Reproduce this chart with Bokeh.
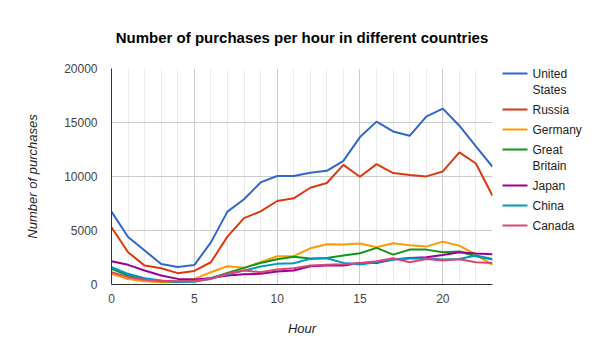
from bokeh.plotting import figure
from bokeh.layouts import row
from bokeh.models import SingleIntervalTicker, Range1d, Title, ColumnDataSource
from bokeh.core.properties import value
from bokeh.embed import file_html
from bokeh.resources import INLINE

hours = list(range(24))
united_states = [6750, 4400, 3150, 1900, 1630, 1800, 3900, 6750, 7900, 9450, 10050, 10050,
                 10350, 10530, 11450, 13650, 15080, 14170, 13770, 15550, 16280, 14700, 12780, 10900]
russia = [5300, 2990, 1750, 1500, 1050, 1260, 2060, 4430, 6150, 6770, 7730, 7980,
          8960, 9400, 11080, 9980, 11150, 10320, 10130, 10010, 10470, 12230, 11200, 8220]
germany = [1000, 500, 300, 200, 200, 520, 1140, 1690, 1540, 2060, 2620, 2620,
           3350, 3730, 3700, 3790, 3450, 3820, 3630, 3510, 3970, 3600, 2770, 1820]
great_britain = [1450, 830, 520, 310, 280, 340, 590, 1080, 1540, 2000, 2340, 2560,
                 2400, 2460, 2680, 2900, 3390, 2770, 3230, 3230, 2990, 3050, 2620, 2310]
japan = [2150, 1820, 1290, 830, 520, 460, 590, 830, 950, 990, 1200, 1290,
         1690, 1750, 1750, 2000, 2000, 2310, 2460, 2530, 2740, 2990, 2860, 2800]
china = [1600, 990, 590, 370, 220, 250, 520, 950, 1290, 1660, 1910, 1970,
         2370, 2430, 2000, 1850, 2060, 2310, 2400, 2430, 2310, 2370, 2680, 2370]
canada = [1140, 680, 430, 340, 310, 340, 520, 990, 1290, 1140, 1390, 1510,
          1750, 1820, 1880, 2000, 2150, 2430, 2060, 2370, 2220, 2340, 2060, 2000]

series_names = [["United", "States"], ["Russia"], ["Germany"], ["Great", "Britain"],
                ["Japan"], ["China"], ["Canada"]]
series_values = [united_states, russia, germany, great_britain, japan, china, canada]
colors = ["#3366cc", "#dc3912", "#ff9900", "#109618", "#990099", "#0099c6", "#dd4477"]

FONT = "Liberation Sans"

p = figure(width=500, height=352, output_backend="svg", toolbar_location=None,
           x_range=Range1d(0, 23), y_range=Range1d(0, 20000),
           min_border_left=111, min_border_right=8, min_border_top=68, min_border_bottom=68)
p.outline_line_color = None
p.background_fill_color = "white"
p.border_fill_color = "white"

t = Title(text="Number of purchases per hour in different countries", align="center",
          text_font=FONT, text_font_size="15px", text_font_style="bold", text_color="#000000",
          standoff=45)
p.add_layout(t, "above")

p.xaxis.ticker = SingleIntervalTicker(interval=5, num_minor_ticks=5)
p.yaxis.ticker = SingleIntervalTicker(interval=5000, num_minor_ticks=0)
for ax in (p.xaxis, p.yaxis):
    ax.axis_line_color = "#333333"
    ax.axis_line_width = 1
    ax.major_tick_line_color = None
    ax.minor_tick_line_color = None
    ax.major_label_text_font = FONT
    ax.major_label_text_font_size = "12px"
    ax.major_label_text_color = "#444444"
    ax.axis_label_text_font = FONT
    ax.axis_label_text_font_size = "13px"
    ax.axis_label_text_font_style = "italic"
    ax.axis_label_text_color = "#222222"

p.xaxis.axis_label = "Hour"
p.yaxis.axis_label = "Number of purchases"
p.xaxis.major_label_standoff = 3
p.xaxis.axis_label_standoff = 15
p.yaxis.major_label_standoff = 8
p.yaxis.axis_label_standoff = 21

p.xgrid.grid_line_color = "#cccccc"
p.xgrid.minor_grid_line_color = "#ebebeb"
p.ygrid.grid_line_color = "#cccccc"

for vals, c in zip(series_values, colors):
    p.line(hours, vals, line_color=c, line_width=2)

# legend panel: its frame is aligned with the chart's frame (page y 68..284),
# so its ranges are given in page pixels
lp = figure(width=100, height=352, output_backend="svg", toolbar_location=None,
            x_range=Range1d(500, 600), y_range=Range1d(284, 68),
            min_border=0)
lp.axis.visible = False
lp.grid.visible = False
lp.outline_line_color = None
lp.border_fill_color = "white"
lp.background_fill_color = "white"

LINE_H = 16
GAP = 4
top = 73
seg_y, seg_c, txt_y, txt_s = [], [], [], []
for name_lines, c in zip(series_names, colors):
    seg_y.append(top)
    seg_c.append(c)
    for k, s in enumerate(name_lines):
        txt_y.append(top + LINE_H * k)
        txt_s.append(s)
    top += LINE_H * len(name_lines) + GAP

seg_src = ColumnDataSource(dict(x0=[502] * len(seg_y), x1=[527] * len(seg_y), y=seg_y, c=seg_c))
lp.segment(x0="x0", y0="y", x1="x1", y1="y", line_color="c", line_width=2, source=seg_src)
txt_src = ColumnDataSource(dict(x=[532] * len(txt_y), y=txt_y, t=txt_s))
lp.text(x="x", y="y", text="t", text_font=value(FONT), text_font_size="12px",
        text_color="#222222", text_baseline="middle", text_align="left", source=txt_src)

layout = row(p, lp)
open("out.html", "w").write(file_html(layout, INLINE))
